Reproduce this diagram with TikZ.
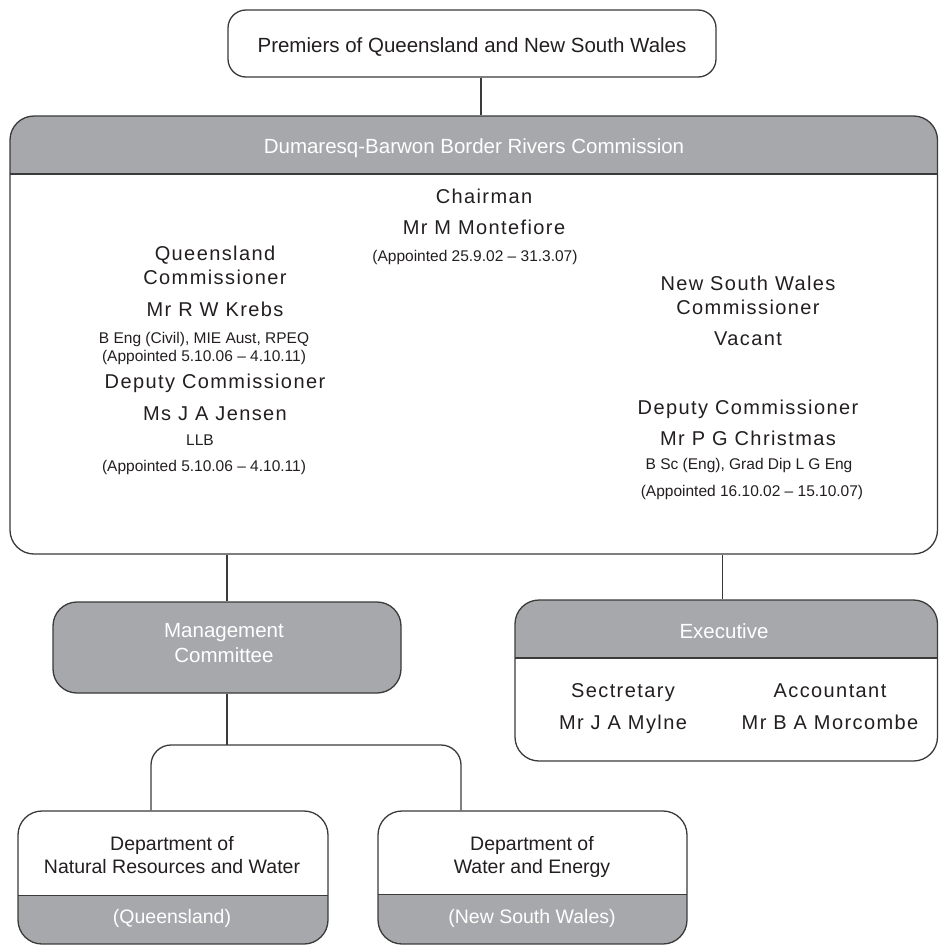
\documentclass[tikz,border=0pt]{standalone}
\usepackage{fontspec}
\setmainfont{Liberation Sans}
\definecolor{boxgray}{RGB}{167,168,171}
\definecolor{linec}{RGB}{58,58,58}
\definecolor{ink}{RGB}{35,31,32}
\newcommand\bigtx{\fontsize{20.5}{24}\selectfont}
\newcommand\nametx{\fontsize{20}{24}\selectfont\addfontfeature{LetterSpace=7}}
\newcommand\smalltx{\fontsize{15.5}{18}\selectfont}
\newcommand\depttx{\fontsize{19.5}{23}\selectfont}
\tikzset{
  conn/.style={draw=linec, line width=1.3pt},
  whitebox/.style={draw=linec, line width=1.3pt, fill=white, rounded corners=#1, inner sep=0pt},
  graybox/.style={draw=linec, line width=1.3pt, fill=boxgray, rounded corners=24pt, inner sep=0pt},
  hdrbox/.style={draw=linec, line width=1.3pt, fill=white, rounded corners=24pt, inner sep=0pt,
    path picture={
      \fill[boxgray, sharp corners] (path picture bounding box.north west) rectangle ([yshift=-#1]path picture bounding box.north east);
      \draw[linec, line width=1.3pt, sharp corners] ([yshift=-#1]path picture bounding box.north west) -- ([yshift=-#1]path picture bounding box.north east);
    }},
  ftrbox/.style={draw=linec, line width=1.3pt, fill=white, rounded corners=24pt, inner sep=0pt,
    path picture={
      \fill[boxgray, sharp corners] (path picture bounding box.south west) rectangle ([yshift=#1]path picture bounding box.south east);
      \draw[linec, line width=1.3pt, sharp corners] ([yshift=#1]path picture bounding box.south west) -- ([yshift=#1]path picture bounding box.south east);
    }},
  lbl/.style={anchor=base, inner sep=0pt, text=ink},
  wlbl/.style={anchor=base, inner sep=0pt, text=white},
}
\begin{document}
\begin{tikzpicture}[x=1pt, y=-1pt]
    \useasboundingbox (0,0) rectangle (939,945);

    % boxes
    \node[whitebox=18pt, minimum width=488pt, minimum height=67pt] (premiers) at (472,43.5) {};
    \node[hdrbox=58pt, minimum width=927.5pt, minimum height=438pt] (commission) at (473.75,335) {};
    \node[graybox, minimum width=348pt, minimum height=91pt] (mgmt) at (227,647.5) {};
    \node[hdrbox=58pt, minimum width=422.5pt, minimum height=161pt] (exec) at (726.25,680.5) {};
    \node[ftrbox=48.5pt, minimum width=310pt, minimum height=133pt] (qldDept) at (173,877.5) {};
    \node[ftrbox=49.5pt, minimum width=309pt, minimum height=133pt] (nswDept) at (532.5,877.5) {};
    \coordinate (fork) at (227,745);

    % connectors
    \draw[conn] ([xshift=9pt]premiers.south) -- ([xshift=9pt]premiers.south |- commission.north);
    \draw[conn] (mgmt.north |- commission.south) -- (mgmt.north);
    \draw[conn] ([xshift=-4pt]exec.north |- commission.south) -- ([xshift=-4pt]exec.north);
    \draw[conn] (mgmt.south) -- (fork);
    \draw[conn, rounded corners=20pt] ([xshift=-22pt]qldDept.north) |- (fork) -| ([xshift=-71.5pt]nswDept.north);

    % texts
    \node[lbl, font=\bigtx] (premiersTxt) at (472,52) {Premiers of Queensland and New South Wales};
    \node[wlbl, font=\bigtx] (commTxt) at (474,153) {Dumaresq-Barwon Border Rivers Commission};

    \node[lbl, font=\nametx] (chair) at (484,203) {Chairman};
    \node[lbl, font=\nametx] (chairName) at (484,234) {Mr M Montefiore};
    \node[lbl, font=\smalltx] (chairTerm) at (475,261) {(Appointed 25.9.02 -- 31.3.07)};

    \node[lbl, font=\nametx] (qldA) at (215,260) {Queensland};
    \node[lbl, font=\nametx] (qldB) at (215,284) {Commissioner};
    \node[lbl, font=\nametx] (qldName) at (215,316) {Mr R W Krebs};
    \node[lbl, font=\smalltx] (qldQual) at (204,343) {B Eng (Civil), MIE Aust, RPEQ};
    \node[lbl, font=\smalltx] (qldTerm) at (204,361) {(Appointed 5.10.06 -- 4.10.11)};
    \node[lbl, font=\nametx] (qldDep) at (215,388) {Deputy Commissioner};
    \node[lbl, font=\nametx] (qldDepName) at (215,420) {Ms J A Jensen};
    \node[lbl, font=\smalltx] (qldDepQual) at (200,445) {LLB};
    \node[lbl, font=\smalltx] (qldDepTerm) at (204,471) {(Appointed 5.10.06 -- 4.10.11)};

    \node[lbl, font=\nametx] (nswA) at (748,290) {New South Wales};
    \node[lbl, font=\nametx] (nswB) at (748,314) {Commissioner};
    \node[lbl, font=\nametx] (nswName) at (748,345) {Vacant};
    \node[lbl, font=\nametx] (nswDep) at (748,414) {Deputy Commissioner};
    \node[lbl, font=\nametx] (nswDepName) at (748,445) {Mr P G Christmas};
    \node[lbl, font=\smalltx] (nswDepQual) at (749,469) {B Sc (Eng), Grad Dip L G Eng};
    \node[lbl, font=\smalltx] (nswDepTerm) at (752,496) {(Appointed 16.10.02 -- 15.10.07)};

    \node[wlbl, font=\bigtx] (mgmtA) at (224,637) {Management};
    \node[wlbl, font=\bigtx] (mgmtB) at (224,662) {Committee};

    \node[wlbl, font=\bigtx] (execTxt) at (724,638) {Executive};
    \node[lbl, font=\nametx] (sec) at (623,697) {Sectretary};
    \node[lbl, font=\nametx] (secName) at (623,729) {Mr J A Mylne};
    \node[lbl, font=\nametx] (acc) at (830,697) {Accountant};
    \node[lbl, font=\nametx] (accName) at (830,729) {Mr B A Morcombe};

    \node[lbl, font=\depttx] (qldDeptA) at (172,850) {Department of};
    \node[lbl, font=\depttx] (qldDeptB) at (172,873) {Natural Resources and Water};
    \node[wlbl, font=\depttx] (qldDeptC) at (172,923) {(Queensland)};
    \node[lbl, font=\depttx] (nswDeptA) at (532,850) {Department of};
    \node[lbl, font=\depttx] (nswDeptB) at (532,873) {Water and Energy};
    \node[wlbl, font=\depttx] (nswDeptC) at (532,923) {(New South Wales)};
\end{tikzpicture}
\end{document}
